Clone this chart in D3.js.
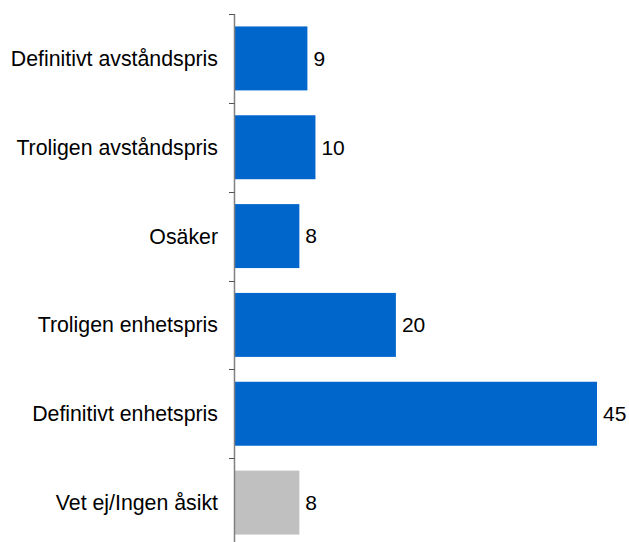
<!DOCTYPE html>
<html>
<head>
<meta charset="utf-8">
<script src="https://cdn.jsdelivr.net/npm/d3@7"></script>
<style>
  body { margin: 0; background: #fff; }
  text { font-family: "Liberation Sans", Arial, sans-serif; fill: #000; }
</style>
</head>
<body>
<div id="chart-area"></div>
<script>

let width = 629,
    height = 542;

// data
let categories = ["Definitivt avståndspris", "Troligen avståndspris", "Osäker",
                  "Troligen enhetspris", "Definitivt enhetspris", "Vet ej/Ingen åsikt"];
let values = [9, 10, 8, 20, 45, 8];
let barColors = ["#0066cc", "#0066cc", "#0066cc", "#0066cc", "#0066cc", "#c0c0c0"];

let svg = d3.select("#chart-area").append("svg")
    .attr("width", width)
    .attr("height", height);

let x = d3.scaleLinear()
    .domain([0, 45])
    .range([235, 597]);

let y = d3.scaleBand()
    .domain(categories)
    .range([14, 547])
    .paddingInner(0.28)
    .paddingOuter(0.14);

// bars
svg.selectAll(".bar")
    .data(values)
    .enter().append("rect")
    .attr("class", "bar")
    .attr("x", x(0))
    .attr("y", function(d, i) { return y(categories[i]); })
    .attr("width", function(d) { return x(d) - x(0); })
    .attr("height", y.bandwidth())
    .attr("fill", function(d, i) { return barColors[i]; });

// value labels
svg.selectAll(".val")
    .data(values)
    .enter().append("text")
    .attr("class", "val")
    .attr("x", function(d) { return x(d) + 6; })
    .attr("y", function(d, i) { return y(categories[i]) + y.bandwidth() / 2; })
    .attr("dy", "0.35em")
    .style("font-size", "21px")
    .text(function(d) { return d; });

// category labels
svg.selectAll(".cat")
    .data(categories)
    .enter().append("text")
    .attr("class", "cat")
    .attr("x", 218)
    .attr("y", function(d) { return y(d) + y.bandwidth() / 2; })
    .attr("dy", "0.35em")
    .attr("text-anchor", "end")
    .style("font-size", "21.3px")
    .text(function(d) { return d; });

// vertical axis with ticks at the band boundaries
let bounds = categories.map(function(d) { return y(d) - y.step() * y.paddingInner() / 2; });
bounds.push(y.range()[1]);

svg.append("line")
    .attr("x1", 234.5).attr("x2", 234.5)
    .attr("y1", bounds[0]).attr("y2", bounds[bounds.length - 1])
    .style("stroke", "#808080")
    .style("stroke-width", 1.5);

svg.selectAll(".tick")
    .data(bounds)
    .enter().append("line")
    .attr("class", "tick")
    .attr("x1", 229).attr("x2", 234.5)
    .attr("y1", function(d) { return Math.round(d) + 0.5; })
    .attr("y2", function(d) { return Math.round(d) + 0.5; })
    .style("stroke", "#555")
    .style("stroke-width", 1);

</script>
</body>
</html>
